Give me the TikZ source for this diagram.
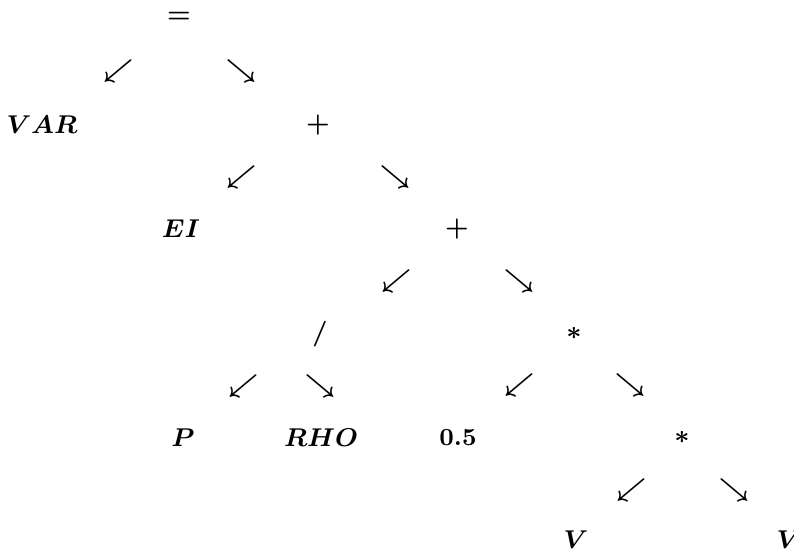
\documentclass[tikz,border=0pt]{standalone}
\usepackage{amsmath,amssymb}
\usepackage{tikz}

\begin{document}
\begin{tikzpicture}[x=0.35pt,y=-0.35pt,
    sym/.style={inner sep=0pt, font=\fontsize{8.6}{10}\selectfont\bfseries\boldmath}]
\useasboundingbox (0,0) rectangle (794,551);
% root
\node[sym] (eq) at (179,17) {$=$};
\node[sym] (eqL) at (118,71) {$\swarrow$};
\node[sym] (eqR) at (241,71) {$\searrow$};
\node[sym] (var) at (42,125) {$VAR$};
\node[sym] (plusA) at (318,125) {$+$};
% first sum
\node[sym] (plusAL) at (241,177) {$\swarrow$};
\node[sym] (plusAR) at (395,177) {$\searrow$};
\node[sym] (ei) at (181,229) {$EI$};
\node[sym] (plusB) at (457,229) {$+$};
% second sum
\node[sym] (plusBL) at (396,281) {$\swarrow$};
\node[sym] (plusBR) at (519,281) {$\searrow$};
\node[sym] (div) at (320,334) {$/$};
\node[sym] (mulA) at (574,333) {$*$};
% quotient and product
\node[sym] (divL) at (243,386) {$\swarrow$};
\node[sym] (divR) at (320,386) {$\searrow$};
\node[sym] (mulAL) at (519,385) {$\swarrow$};
\node[sym] (mulAR) at (630,385) {$\searrow$};
\node[sym] (p) at (183,438) {$P$};
\node[sym] (rho) at (321,438) {$RHO$};
\node[sym] (half) at (458,438) {0.5};
\node[sym] (mulB) at (682,437) {$*$};
% last product
\node[sym] (mulBL) at (631,490) {$\swarrow$};
\node[sym] (mulBR) at (734,490) {$\searrow$};
\node[sym] (va) at (576,540) {$V$};
\node[sym] (vb) at (789,540) {$V$};
\end{tikzpicture}
\end{document}
